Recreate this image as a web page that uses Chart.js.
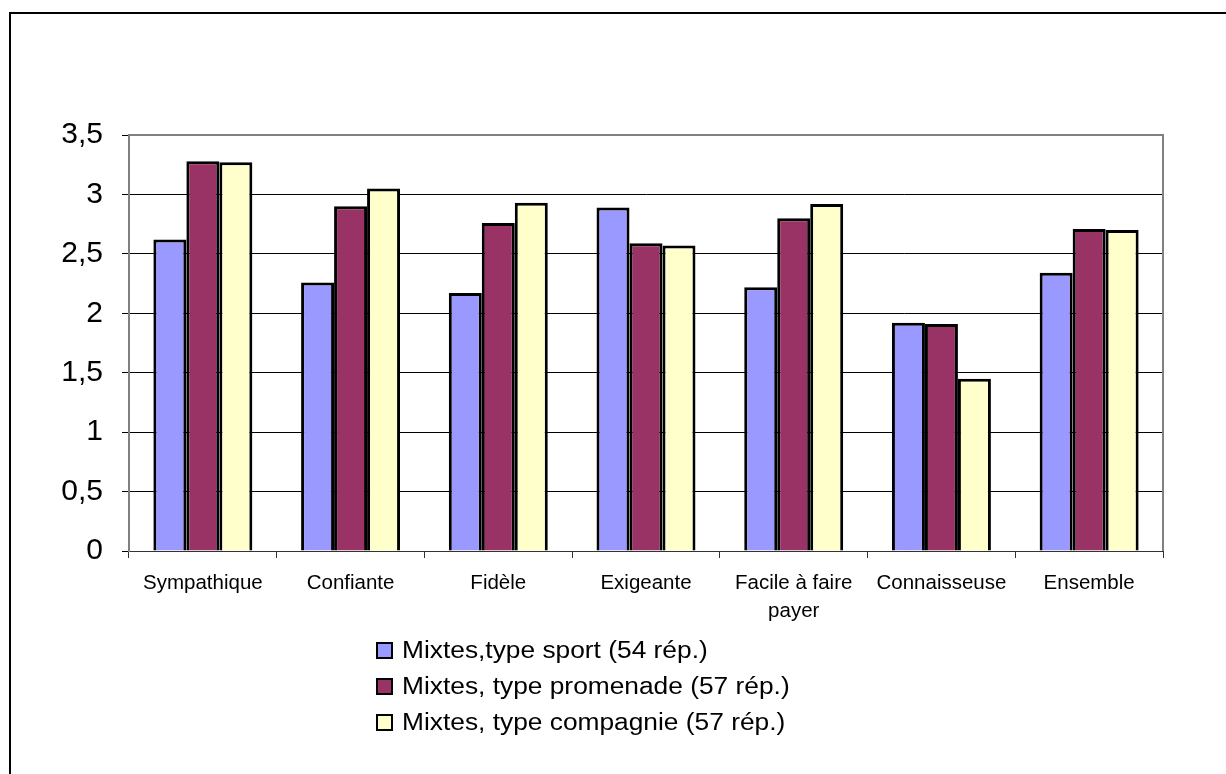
<!DOCTYPE html>
<html>
<head>
<meta charset="utf-8">
<script src="https://cdn.jsdelivr.net/npm/chart.js@4"></script>
<style>
    body { margin: 0; background: #fff; overflow: hidden; }
    #wrap { position: relative; width: 1226px; height: 774px; overflow: hidden; }
    #frame { position: absolute; left: 9px; top: 12px; width: 1300px; height: 900px; border: 2px solid #000; }
    #chart { position: absolute; left: 0; top: 0; }
    #legend { position: absolute; left: 376px; top: 632px; font-family: "Liberation Sans", Arial, sans-serif; font-size: 23.5px; color: #000; }
    .item { display: flex; align-items: center; height: 36px; }
    .box { width: 13px; height: 13px; border: 2px solid #000; margin-right: 9px; flex: none; }
    .txt { display: inline-block; transform: scaleX(1.12); transform-origin: left center; white-space: nowrap; }
</style>
</head>
<body>
<div id="wrap">
    <div id="frame"></div>
    <canvas id="chart" width="1226" height="774"></canvas>
    <div id="legend"></div>
</div>
<script>
const categories = ['Sympathique', 'Confiante', 'Fidèle', 'Exigeante', ['Facile à faire', 'payer'], 'Connaisseuse', 'Ensemble'];
const seriesNames = ['Mixtes,type sport (54 rép.)', 'Mixtes, type promenade (57 rép.)', 'Mixtes, type compagnie (57 rép.)'];
const sportValues = [2.62, 2.26, 2.17, 2.89, 2.22, 1.92, 2.34];
const promenadeValues = [3.28, 2.90, 2.76, 2.59, 2.80, 1.91, 2.71];
const compagnieValues = [3.27, 3.05, 2.93, 2.57, 2.92, 1.45, 2.70];
const seriesColors = ['#9999FF', '#993366', '#FFFFCC'];

const fontFamily = '"Liberation Sans", Arial, sans-serif';

// gray frame on top and right of the plot area
const plotBorder = {
    id: 'plotBorder',
    beforeDatasetsDraw(chart) {
        const { ctx, chartArea } = chart;
        ctx.save();
        ctx.strokeStyle = '#808080';
        ctx.lineWidth = 2;
        ctx.beginPath();
        ctx.moveTo(chartArea.left, chartArea.top);
        ctx.lineTo(chartArea.right, chartArea.top);
        ctx.lineTo(chartArea.right, chartArea.bottom);
        ctx.stroke();
        ctx.restore();
    }
};

const allValues = [sportValues, promenadeValues, compagnieValues];
const datasets = allValues.map((vals, i) => ({
    label: seriesNames[i],
    data: vals,
    backgroundColor: seriesColors[i],
    borderColor: '#000',
    borderWidth: 3,
    categoryPercentage: 0.67,
    barPercentage: 1.0
}));

const chart = new Chart(document.getElementById('chart').getContext('2d'), {
    type: 'bar',
    data: { labels: categories, datasets: datasets },
    options: {
        responsive: false,
        animation: false,
        layout: { padding: { top: 135, right: 63, left: 0, bottom: 0 } },
        plugins: {
            legend: { display: false },
            tooltip: { enabled: false }
        },
        scales: {
            x: {
                afterFit: scale => { scale.height = 223; },
                grid: { drawOnChartArea: false, drawTicks: true, tickLength: 7, offset: true, color: '#333' },
                border: { color: '#333', width: 1 },
                ticks: {
                    autoSkip: false,
                    maxRotation: 0,
                    padding: 12,
                    color: '#000',
                    font: { family: fontFamily, size: 20.5, lineHeight: 1.35 }
                }
            },
            y: {
                min: 0,
                max: 3.5,
                afterFit: scale => { scale.width = 129; },
                grid: {
                    color: ctx => (ctx.tick && ctx.tick.value === 3.5) ? 'rgba(0,0,0,0)' : '#000',
                    tickColor: '#000',
                    tickLength: 7,
                    lineWidth: 1
                },
                border: { color: '#808080', width: 2 },
                ticks: {
                    stepSize: 0.5,
                    padding: 19,
                    color: '#000',
                    font: { family: fontFamily, size: 30 },
                    callback: value => value.toString().replace('.', ',')
                }
            }
        }
    },
    plugins: [plotBorder]
});

// legend in one column, left aligned
const legendEl = document.getElementById('legend');
chart.data.datasets.forEach(ds => {
    const item = document.createElement('div');
    item.className = 'item';
    const box = document.createElement('span');
    box.className = 'box';
    box.style.backgroundColor = ds.backgroundColor;
    const txt = document.createElement('span');
    txt.className = 'txt';
    txt.textContent = ds.label;
    item.appendChild(box);
    item.appendChild(txt);
    legendEl.appendChild(item);
});
</script>
</body>
</html>
